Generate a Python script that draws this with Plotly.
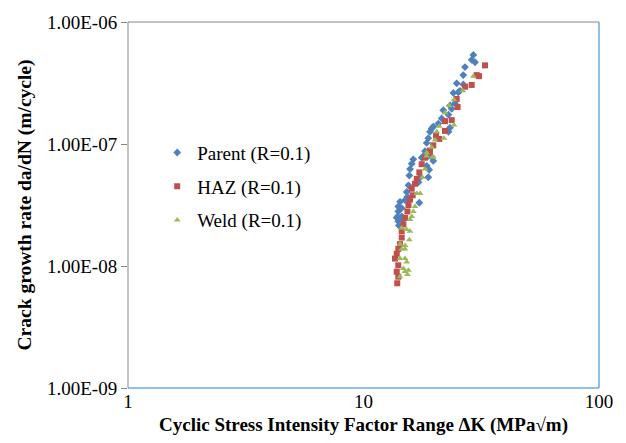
import plotly.graph_objects as go

# Fatigue crack growth data, ΔK in MPa√m, da/dN in m/cycle
parent_dk = [29.27, 28.80, 29.75, 26.98, 26.53, 24.87, 26.53, 25.69, 25.26, 24.08,
             24.46, 23.30, 23.69, 22.95, 21.82, 21.48, 20.78, 19.78, 19.48, 19.16,
             23.30, 22.95, 18.84, 18.55, 18.25, 17.97, 16.27, 17.67, 16.02, 18.84,
             19.48, 19.78, 18.55, 19.00, 15.76, 15.65, 17.11, 18.84, 17.38, 15.52,
             15.26, 15.36, 15.01, 14.29, 14.05, 14.53, 14.05, 13.97, 14.53, 14.77,
             14.05, 17.26, 14.13, 13.83]
parent_dadn = [5.37e-7, 4.90e-7, 4.68e-7, 4.27e-7, 3.67e-7, 3.14e-7, 3.08e-7, 2.73e-7, 2.65e-7, 2.62e-7,
               2.16e-7, 2.07e-7, 1.945e-7, 1.74e-7, 1.89e-7, 1.62e-7, 1.47e-7, 1.39e-7, 1.34e-7, 1.26e-7,
               1.36e-7, 1.26e-7, 1.116e-7, 1.02e-7, 8.74e-8, 7.97e-8, 7.49e-8, 7.72e-8, 6.90e-8, 7.97e-8,
               7.81e-8, 7.26e-8, 6.62e-8, 6.15e-8, 6.23e-8, 5.51e-8, 4.86e-8, 5.34e-8, 5.34e-8, 4.58e-8,
               4.04e-8, 3.69e-8, 3.47e-8, 3.36e-8, 3.07e-8, 2.98e-8, 2.80e-8, 2.55e-8, 2.55e-8, 2.40e-8,
               2.33e-8, 3.30e-8, 2.15e-8, 2.49e-8]

haz_dk = [32.80, 30.25, 30.95, 28.80, 26.98, 24.87, 25.10, 22.19, 23.69, 22.19,
          20.32, 20.98, 19.78, 19.16, 18.25, 19.16, 17.67, 17.26, 16.83, 16.55,
          16.02, 16.18, 15.76, 15.52, 15.36, 15.01, 14.77, 14.53, 14.53, 14.29,
          14.05, 13.84, 13.61, 14.05, 13.84, 14.05, 13.91]
haz_dadn = [4.41e-7, 3.67e-7, 3.60e-7, 3.05e-7, 2.95e-7, 2.34e-7, 2.01e-7, 1.54e-7, 1.57e-7, 1.28e-7,
            1.17e-7, 1.10e-7, 9.76e-8, 8.85e-8, 7.72e-8, 8.47e-8, 6.83e-8, 5.85e-8, 5.18e-8, 4.72e-8,
            4.30e-8, 3.80e-8, 3.51e-8, 3.16e-8, 2.80e-8, 2.48e-8, 2.19e-8, 1.93e-8, 1.71e-8, 1.51e-8,
            1.38e-8, 1.26e-8, 1.15e-8, 1.013e-8, 8.97e-9, 8.17e-9, 7.22e-9]

weld_dk = [29.27, 26.40, 24.22, 23.14, 22.19, 20.98, 24.22, 20.46, 20.12, 21.97,
           19.48, 18.55, 19.78, 18.55, 19.67, 18.25, 17.79, 17.38, 16.83, 16.55,
           16.27, 16.02, 15.76, 14.53, 15.26, 15.76, 15.65, 14.29, 15.01, 14.53,
           15.01, 14.29, 15.01, 15.26, 14.77, 15.52, 15.36, 14.29, 15.01]
weld_dadn = [3.60e-7, 2.73e-7, 2.31e-7, 2.07e-7, 1.80e-7, 1.40e-7, 1.43e-7, 1.26e-7, 1.08e-7, 1.116e-7,
             9.40e-8, 7.97e-8, 7.81e-8, 8.47e-8, 7.81e-8, 6.23e-8, 5.34e-8, 3.92e-8, 3.92e-8, 3.07e-8,
             2.80e-8, 2.55e-8, 2.40e-8, 2.05e-8, 1.99e-8, 1.93e-8, 1.64e-8, 1.51e-8, 1.47e-8, 1.38e-8,
             1.38e-8, 1.15e-8, 1.15e-8, 1.08e-8, 9.53e-9, 9.23e-9, 8.52e-9, 8.17e-9, 9.0e-9]

x_ticks = [1, 10, 100]
x_tick_text = ["1", "10", "100"]
y_ticks = [1e-9, 1e-8, 1e-7, 1e-6]
y_tick_text = ["1.00E-09", "1.00E-08", "1.00E-07", "1.00E-06"]

SERIF = "Liberation Serif, Times New Roman, serif"

fig = go.Figure()
fig.add_trace(go.Scatter(x=parent_dk, y=parent_dadn, mode="markers", name="Parent (R=0.1)",
                         legendgroup="parent",
                         marker=dict(symbol="diamond", size=6, color="#4F81BD")))
fig.add_trace(go.Scatter(x=haz_dk, y=haz_dadn, mode="markers", name="HAZ (R=0.1)",
                         legendgroup="haz",
                         marker=dict(symbol="square", size=6, color="#C0504D")))
fig.add_trace(go.Scatter(x=weld_dk, y=weld_dadn, mode="markers", name="Weld (R=0.1)",
                         legendgroup="weld",
                         marker=dict(symbol="triangle-up", size=6, color="#9BBB59")))

fig.update_layout(
    width=626, height=443,
    margin=dict(l=128, r=27, t=18, b=51),
    paper_bgcolor="white", plot_bgcolor="white",
    font=dict(family=SERIF, size=19, color="black"),
    showlegend=True,
    legend=dict(x=0.062, y=0.695, xanchor="left", yanchor="top",
                font=dict(family=SERIF, size=19, color="black"),
                bgcolor="rgba(0,0,0,0)", itemsizing="trace",
                tracegroupgap=6, itemwidth=30),
    xaxis=dict(type="log", range=[0, 2], tickvals=x_ticks, ticktext=x_tick_text,
               showgrid=False, zeroline=False, showline=False, ticks="",
               tickfont=dict(family=SERIF, size=19),
               title=dict(text="<b>Cyclic Stress Intensity Factor Range ΔK (MPa√m)</b>",
                          font=dict(family=SERIF, size=19), standoff=6)),
    yaxis=dict(type="log", range=[-9, -6], tickvals=y_ticks, ticktext=y_tick_text,
               showgrid=False, zeroline=False, showline=False,
               ticks="outside", ticklen=6, tickcolor="#868686", tickwidth=1,
               tickfont=dict(family=SERIF, size=19),
               title=dict(text="<b>Crack growth rate da/dN (m/cycle)</b>",
                          font=dict(family=SERIF, size=19.5), standoff=10)),
    shapes=[
        dict(type="line", xref="paper", yref="paper", x0=0, x1=0, y0=0, y1=1,
             line=dict(color="#868686", width=1)),
        dict(type="line", xref="paper", yref="paper", x0=0, x1=1, y0=1, y1=1,
             line=dict(color="#868686", width=1)),
        dict(type="line", xref="paper", yref="paper", x0=1, x1=1, y0=0, y1=1,
             line=dict(color="#6FA8DC", width=1.5)),
        dict(type="line", xref="paper", yref="paper", x0=0, x1=1, y0=0, y1=0,
             line=dict(color="#6FA8DC", width=1.5)),
    ],
)

fig.write_html("out.html")
